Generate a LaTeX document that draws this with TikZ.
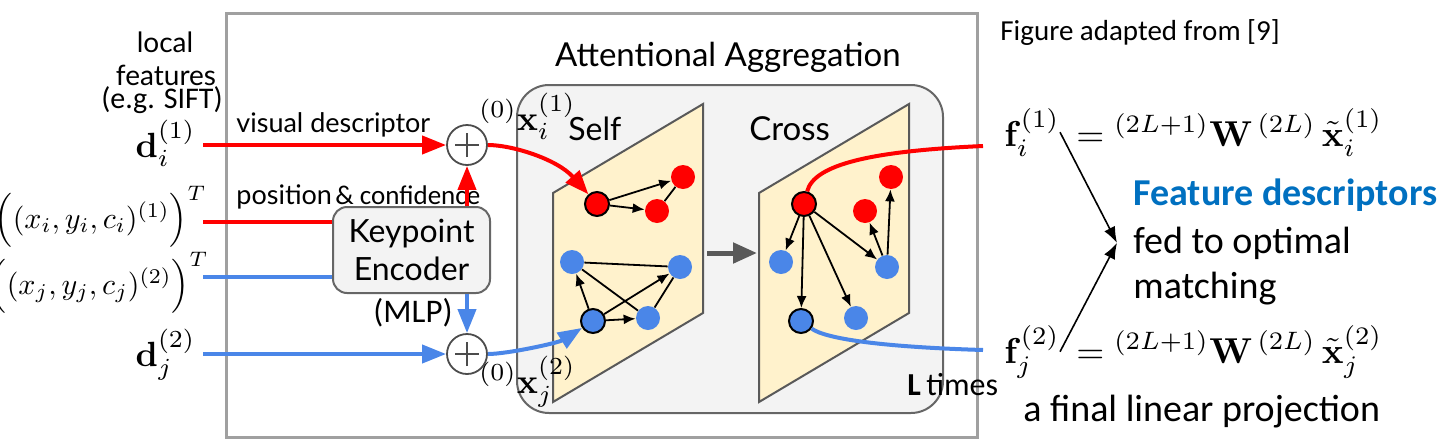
\RequirePackage{fix-cm}
\documentclass[tikz,border=0pt]{standalone}
\usepackage{amsmath}
\usepackage{graphicx}
\usepackage[no-math]{fontspec}
\setmainfont{Carlito}
\newfontfamily\thinfont{Lato}
\usetikzlibrary{arrows.meta,positioning,calc}

\definecolor{kred}{RGB}{255,0,0}
\definecolor{kblue}{RGB}{74,134,232}
\definecolor{panelfill}{RGB}{255,242,204}
\definecolor{panelline}{RGB}{89,89,89}
\definecolor{boxfill}{RGB}{243,243,243}
\definecolor{boxline}{RGB}{102,102,102}
\definecolor{frameline}{RGB}{160,160,160}
\definecolor{featblue}{RGB}{0,112,192}

% math set at 10pt, then enlarged
\newcommand{\mth}[2][1.75]{\scalebox{#1}{$#2$}}

\tikzset{
  redin/.style={kred,line width=2pt,-{Triangle[length=12pt,width=9pt]}},
  bluein/.style={kblue,line width=2pt,-{Triangle[length=12pt,width=9pt]}},
  redline/.style={kred,line width=2pt},
  blueline/.style={kblue,line width=2pt},
  kpt/.style={circle,inner sep=0pt,minimum size=12pt},
  rkpt/.style={kpt,fill=kred},
  bkpt/.style={kpt,fill=kblue},
  rsel/.style={rkpt,draw=black,line width=1pt},
  bsel/.style={bkpt,draw=black,line width=1pt},
  gedge/.style={black,line width=0.9pt},
  garrow/.style={gedge,-{Latex[length=6pt,width=5pt]}},
  plusnode/.style={circle,draw=black!70,line width=0.9pt,minimum size=20pt,fill=white,inner sep=0pt,
    path picture={\draw[black!70,line width=0.6pt]
      ([xshift=-6pt]path picture bounding box.center) -- ([xshift=6pt]path picture bounding box.center)
      ([yshift=-6pt]path picture bounding box.center) -- ([yshift=6pt]path picture bounding box.center);}},
  panel/.style={fill=panelfill,draw=panelline,line width=1pt},
  outerframe/.style={draw=frameline,line width=1.5pt},
  block/.style={fill=boxfill,draw=boxline,line width=1pt,rounded corners=16pt},
  encbox/.style={draw=boxline,fill=boxfill,line width=1pt,rounded corners=7pt,minimum width=78.5pt,
    minimum height=43pt,align=center,inner sep=0pt,font=\thinfont\fontsize{16}{19}\selectfont},
  roblbl/.style={inner sep=0pt,font=\thinfont\fontsize{#1}{#1}\selectfont},
  txt/.style={inner sep=0pt,font=\fontsize{#1}{#1}\selectfont},
  mathlbl/.style={inner sep=0pt,font=\fontsize{10}{12}\selectfont},
}

\begin{document}
\begin{tikzpicture}[x=0.5pt,y=0.5pt,yscale=-1]
\useasboundingbox (0,0) rectangle (1443,445);

%Shape: Rectangle [outer frame]
\draw[outerframe] (226,13) rectangle (977,437);
%Shape: Rounded Rectangle [attention block]
\draw[block] (517,85) rectangle (943,413);
% Text Node
\node[roblbl=16.5,anchor=base] (att) at (728,66) {Attentional Aggregation};

%Shape: Parallelogram [self]
\draw[panel] (553,193) -- (703,104) -- (703,313) -- (553,402) -- cycle;
%Shape: Parallelogram [cross]
\draw[panel] (759,193) -- (909,104) -- (909,313) -- (759,402) -- cycle;
% Text Node
\node[roblbl=16,anchor=base west] (self) at (568,140) {Self};
% Text Node
\node[roblbl=16.5,anchor=base west] (cross) at (749,140) {Cross};

%Straight Lines [self to cross]
\coordinate (selfR) at (707,253);
\coordinate (crossL) at (757,253);
\draw[panelline,line width=2.5pt,-{Triangle[length=12pt,width=10pt]}] (selfR) -- (crossL);

%Shape: Circle [self keypoints]
\node[rsel] (sr1) at (597,204) {};
\node[rkpt] (sr2) at (683,177) {};
\node[rkpt] (sr3) at (657,211) {};
\node[bkpt] (sb1) at (572,262) {};
\node[bkpt] (sb2) at (680,267) {};
\node[bsel] (sb3) at (593,321) {};
\node[bkpt] (sb4) at (648,318) {};
%Straight Lines [self edges]
\draw[garrow] (sr1) -- (sr2);
\draw[garrow] (sr1) -- (sr3);
\draw[gedge] (sr3) -- (sr2);
\draw[gedge] (sb1) -- (sb2);
\draw[gedge] (sb1) -- (sb4);
\draw[garrow] (sb3) -- (sb1);
\draw[garrow] (sb3) -- (sb2);
\draw[garrow] (sb3) -- (sb4);
\draw[gedge] (sb4) -- (sb2);

%Shape: Circle [cross keypoints]
\node[rsel] (cr1) at (804,204) {};
\node[rkpt] (cr2) at (891,177) {};
\node[rkpt] (cr3) at (865,211) {};
\node[bkpt] (cb1) at (781,262) {};
\node[bkpt] (cb2) at (887,267) {};
\node[bsel] (cb3) at (801,321) {};
\node[bkpt] (cb4) at (856,318) {};
%Straight Lines [cross edges]
\draw[garrow] (cr1) -- (cb1);
\draw[garrow] (cr1) -- (cb3);
\draw[garrow] (cr1) -- (cb4);
\draw[garrow] (cr1) -- (cb2);
\draw[garrow] (cb2) -- (cr3);
\draw[garrow] (cb2) -- (cr2);

%Shape: Rounded Rectangle [keypoint encoder]
\node[encbox] (enc) at (411.5,250) {Keypoint\\Encoder};
% Text Node
\node[txt=16.5] (mlp) at (413,313) {(MLP)};

%Shape: Circle [sums]
\node[plusnode] (plusi) at (467,145) {};
\node[plusnode] (plusj) at (467,354) {};

% Text Node [inputs]
\node[roblbl=14,anchor=base] (local) at (165,52) {local};
\node[roblbl=14,anchor=base] (feat) at (166,85) {features};
\node[txt=15,anchor=base] (sift) at (162,108) {(e.g. SIFT)};
\node[mathlbl,anchor=base east,inner xsep=3.5pt] (di) at (203,157) {\mth{\mathbf{d}_i^{(1)}}};
\node[mathlbl,anchor=base east] (xyi) at (207,228) {\mth[1.5]{\Big((x_i,y_i,c_i)^{(1)}\Big)^T}};
\node[mathlbl,anchor=base east] (xyj) at (209,294) {\mth[1.5]{\Big((x_j,y_j,c_j)^{(2)}\Big)^T}};
\node[mathlbl,anchor=base east,inner xsep=3.5pt] (dj) at (203,366) {\mth{\mathbf{d}_j^{(2)}}};
\node[roblbl=13.5,anchor=base west] (vis) at (236,132) {visual descriptor};
\node[anchor=base west,inner sep=0pt] (pos) at (236,204) {{\thinfont\fontsize{13.5}{14}\selectfont position}\,{\fontsize{13.5}{14}\selectfont\&~confidence}};

%Straight Lines [input arrows]
\coordinate (posi) at (203,222);
\coordinate (posj) at (203,277);
\draw[redin] (di.east |- plusi.west) -- (plusi.west);
\draw[redline] (posi) -- (posi -| enc.west);
\draw[redin] (enc.north -| plusi) -- (plusi.south);
\draw[blueline] (posj) -- (posj -| enc.west);
\draw[bluein] (enc.south -| plusj) -- (plusj.north);
\draw[bluein] (dj.east |- plusj.west) -- (plusj.west);

%Curve Lines [into self]
\draw[redin] (plusi) .. controls +(45,0) and +(-40,-45) .. (sr1);
\draw[bluein] (plusj) .. controls +(40,0) and +(-35,22) .. (sb3);

% Text Node [layer inputs]
\node[mathlbl,anchor=base west] (x0i) at (479,130) {\mth{{}^{(0)}\mathbf{x}_i^{(1)}}};
\node[mathlbl,anchor=base west] (x0j) at (479,393) {\mth{{}^{(0)}\mathbf{x}_j^{(2)}}};

%Curve Lines [out of cross]
\coordinate (outi) at (983,146);
\coordinate (outj) at (983,350);
\draw[redline] (cr1) .. controls +(10,-40) and +(-110,5) .. (outi);
\draw[blueline] (cb3) .. controls +(25,18) and +(-100,-3) .. (outj);
% Text Node
\node[anchor=base west,inner sep=0pt] (ltimes) at (907,395) {\fontsize{16}{16}\selectfont\textbf{L}\,times};

% Text Node [outputs]
\node[txt=14.5,anchor=base west] (adapt) at (1000,40) {Figure adapted from [9]};
\node[mathlbl,anchor=base west] (fi) at (1004,146) {\mth[1.8]{\mathbf{f}_i^{(1)}}};
\node[mathlbl,anchor=base west] (eqi) at ([xshift=8pt]fi.base east) {\mth[1.8]{={}^{(2L+1)}\mathbf{W}^{\,(2L)}\,\tilde{\mathbf{x}}_i^{(1)}}};
\node[mathlbl,anchor=base west] (fj) at (1004,363) {\mth[1.8]{\mathbf{f}_j^{(2)}}};
\node[mathlbl,anchor=base west] (eqj) at ([xshift=8pt]fj.base east) {\mth[1.8]{={}^{(2L+1)}\mathbf{W}^{\,(2L)}\,\tilde{\mathbf{x}}_j^{(2)}}};
\node[txt=19,anchor=base west,text=featblue,font=\bfseries\fontsize{19}{19}\selectfont] (featd) at (1133,205) {Feature descriptors};
\node[txt=19,anchor=base west,inner xsep=8pt] (fed) at (1117,253) {fed to optimal};
\node[txt=19,anchor=base west] (match) at (1133,298) {matching};
\node[txt=19,anchor=base west] (proj) at (1023,421) {a final linear projection};

%Straight Lines [to matching]
\draw[black,line width=0.8pt,-{Latex[length=8pt,width=6pt]}] (fi.east) -- (fed.west);
\draw[black,line width=0.8pt,-{Latex[length=8pt,width=6pt]}] (fj.east) -- (fed.west);

\end{tikzpicture}
\end{document}
